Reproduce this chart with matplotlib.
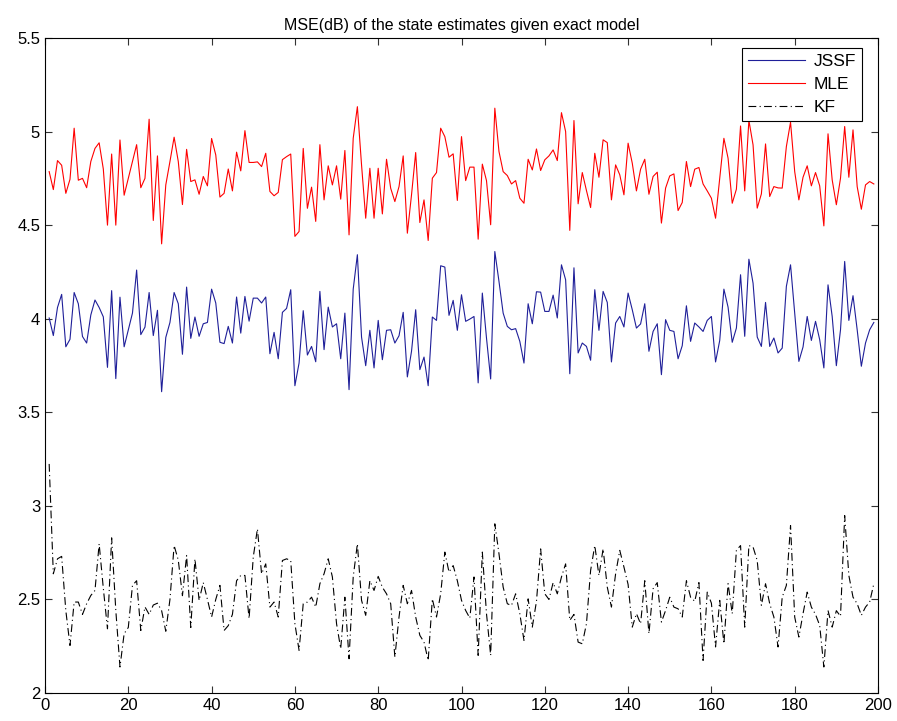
import numpy as np
import matplotlib
matplotlib.use("Agg")
import matplotlib.pyplot as plt
from matplotlib.ticker import FuncFormatter

# MSE (dB) per time step, one value per run index 1..199
mle = [4.786, 4.69, 4.845, 4.82, 4.67, 4.745, 5.018, 4.74, 4.75, 4.70,
       4.84, 4.91, 4.94, 4.80, 4.50, 4.88, 4.50, 4.955, 4.66, 4.75,
       4.84, 4.93, 4.70, 4.75, 5.066, 4.525, 4.87, 4.40, 4.715, 4.84,
       4.97, 4.84, 4.61, 4.905, 4.733, 4.742, 4.665, 4.76, 4.71, 4.963,
       4.875, 4.65, 4.67, 4.80, 4.683, 4.89, 4.79, 5.005, 4.835, 4.835,
       4.838, 4.813, 4.884, 4.68, 4.657, 4.675, 4.85, 4.866, 4.88, 4.44,
       4.466, 4.91, 4.59, 4.703, 4.52, 4.93, 4.635, 4.817, 4.715, 4.817,
       4.639, 4.899, 4.448, 4.964, 5.133, 4.822, 4.537, 4.804, 4.537, 4.804,
       4.56, 4.852, 4.697, 4.626, 4.706, 4.87, 4.457, 4.662, 4.888, 4.514,
       4.635, 4.418, 4.751, 4.781, 5.018, 4.973, 4.863, 4.881, 4.632, 4.973,
       4.738, 4.81, 4.81, 4.425, 4.826, 4.738, 4.502, 5.125, 4.893, 4.786,
       4.765, 4.72, 4.738, 4.644, 4.617, 4.852, 4.795, 4.907, 4.792, 4.849,
       4.87, 4.902, 4.845, 5.101, 5.0, 4.472, 5.059, 4.614, 4.781, 4.685,
       4.594, 4.884, 4.756, 4.956, 4.941, 4.635, 4.822, 4.769, 4.662, 4.938,
       4.831, 4.683, 4.799, 4.852, 4.665, 4.76, 4.783, 4.511, 4.698, 4.763,
       4.774, 4.578, 4.621, 4.84, 4.706, 4.799, 4.808, 4.72, 4.683, 4.644,
       4.537, 4.751, 4.964, 4.858, 4.617, 4.692, 5.03, 4.683, 5.06, 4.929,
       4.591, 4.667, 4.934, 4.653, 4.706, 4.699, 4.698, 4.92, 5.05, 4.786,
       4.635, 4.756, 4.817, 4.71, 4.781, 4.71, 4.496, 4.988, 4.742, 4.609,
       4.751, 5.027, 4.756, 5.009, 4.706, 4.585, 4.715, 4.733, 4.72]

jssf = [4.004, 3.91, 4.06, 4.13, 3.85, 3.89, 4.14, 4.08, 3.905, 3.87,
        4.02, 4.10, 4.06, 4.01, 3.74, 4.15, 3.68, 4.115, 3.85, 3.94,
        4.03, 4.26, 3.915, 3.955, 4.14, 3.91, 4.045, 3.61, 3.90, 3.98,
        4.14, 4.08, 3.81, 4.169, 3.895, 4.009, 3.906, 3.973, 3.98, 4.158,
        4.084, 3.874, 3.867, 3.959, 3.87, 4.116, 3.923, 4.119, 3.987, 4.11,
        4.11, 4.084, 4.116, 3.813, 3.927, 3.786, 4.034, 4.055, 4.155, 3.642,
        3.763, 4.043, 3.806, 3.852, 3.77, 4.146, 3.835, 4.062, 3.956, 3.973,
        3.786, 4.03, 3.621, 4.158, 4.342, 3.902, 3.749, 3.938, 3.737, 3.991,
        3.781, 3.938, 3.941, 3.87, 3.909, 4.034, 3.689, 3.826, 4.048, 3.728,
        3.795, 3.642, 4.009, 3.991, 4.283, 4.276, 4.018, 4.098, 3.938, 4.128,
        3.986, 3.998, 4.012, 3.657, 4.137, 3.897, 3.678, 4.359, 4.199, 4.03,
        3.959, 3.941, 3.947, 3.879, 3.763, 4.08, 3.973, 4.144, 4.142, 4.039,
        4.039, 4.126, 4.004, 4.288, 4.208, 3.706, 4.272, 3.817, 3.87, 3.852,
        3.778, 4.155, 3.938, 4.146, 4.087, 3.769, 3.977, 4.012, 3.956, 4.137,
        4.048, 3.95, 3.972, 4.08, 3.826, 3.932, 3.973, 3.701, 3.995, 3.938,
        3.932, 3.786, 3.856, 4.069, 3.879, 3.977, 3.956, 3.932, 3.991, 4.012,
        3.769, 3.884, 4.158, 4.062, 3.874, 3.95, 4.235, 3.906, 4.318, 4.19,
        3.902, 3.852, 4.087, 3.852, 3.897, 3.817, 3.843, 4.173, 4.288, 4.03,
        3.772, 3.849, 4.012, 3.884, 3.986, 3.888, 3.737, 4.181, 4.012, 3.749,
        3.941, 4.306, 3.991, 4.123, 3.941, 3.746, 3.87, 3.941, 3.98]

kf = [3.224, 2.637, 2.717, 2.73, 2.44, 2.254, 2.486, 2.486, 2.42, 2.477,
      2.521, 2.548, 2.797, 2.56, 2.343, 2.829, 2.441, 2.139, 2.317, 2.35,
      2.575, 2.60, 2.334, 2.46, 2.42, 2.47, 2.48, 2.44, 2.33, 2.50,
      2.788, 2.71, 2.52, 2.735, 2.35, 2.717, 2.495, 2.59, 2.50, 2.406,
      2.50, 2.575, 2.334, 2.36, 2.42, 2.60, 2.628, 2.628, 2.397, 2.726,
      2.877, 2.637, 2.69, 2.459, 2.486, 2.406, 2.708, 2.717, 2.708, 2.37,
      2.228, 2.477, 2.486, 2.512, 2.459, 2.584, 2.637, 2.717, 2.62, 2.37,
      2.237, 2.512, 2.183, 2.62, 2.797, 2.495, 2.415, 2.60, 2.548, 2.623,
      2.565, 2.53, 2.477, 2.192, 2.406, 2.575, 2.477, 2.548, 2.406, 2.308,
      2.272, 2.174, 2.503, 2.406, 2.53, 2.753, 2.646, 2.681, 2.60, 2.495,
      2.441, 2.40, 2.62, 2.201, 2.753, 2.424, 2.201, 2.904, 2.744, 2.566,
      2.477, 2.468, 2.53, 2.424, 2.281, 2.503, 2.352, 2.49, 2.77, 2.53,
      2.50, 2.59, 2.53, 2.62, 2.69, 2.388, 2.42, 2.272, 2.263, 2.37,
      2.655, 2.788, 2.628, 2.77, 2.566, 2.459, 2.637, 2.762, 2.673, 2.58,
      2.352, 2.424, 2.37, 2.60, 2.317, 2.557, 2.59, 2.379, 2.441, 2.512,
      2.459, 2.45, 2.406, 2.60, 2.512, 2.49, 2.59, 2.174, 2.539, 2.48,
      2.246, 2.495, 2.263, 2.584, 2.424, 2.762, 2.788, 2.352, 2.788, 2.78,
      2.708, 2.468, 2.584, 2.477, 2.406, 2.246, 2.512, 2.575, 2.895, 2.406,
      2.299, 2.424, 2.539, 2.459, 2.42, 2.361, 2.139, 2.441, 2.352, 2.44,
      2.41, 2.948, 2.628, 2.512, 2.477, 2.415, 2.459, 2.486, 2.584]

series_labels = ["JSSF", "MLE", "KF"]
x_ticks = [0, 20, 40, 60, 80, 100, 120, 140, 160, 180, 200]
y_ticks = [2, 2.5, 3, 3.5, 4, 4.5, 5, 5.5]

plt.rcParams['font.family'] = ['Liberation Sans', 'DejaVu Sans']

n = np.arange(1, len(mle) + 1)

fig = plt.figure(figsize=(8.97, 7.21), dpi=100)
ax = fig.add_axes([45 / 897, 1 - 693 / 721, 833 / 897, 655 / 721])

ax.plot(n, jssf, color='#1f1f99', linewidth=0.8, label=series_labels[0])
ax.plot(n, mle, color='#ff0000', linewidth=0.8, label=series_labels[1])
ax.plot(n, kf, color='black', linewidth=0.8, linestyle=(0, (7, 3, 1, 3)),
        label=series_labels[2])

ax.set_xlim(0, 200)
ax.set_ylim(2, 5.5)
ax.set_xticks(x_ticks)
ax.set_yticks(y_ticks)
ax.yaxis.set_major_formatter(FuncFormatter(lambda v, p: "%g" % v))
ax.tick_params(direction='in', top=True, right=True, length=5,
               width=0.8, labelsize=12, color='#333333')
for s in ax.spines.values():
    s.set_linewidth(0.8)

ax.set_title("MSE(dB) of the state estimates given exact model", fontsize=11.5, pad=6)

# legend box sits just under the top-right corner
leg = ax.legend(loc='upper right', bbox_to_anchor=(0.981, 0.985), borderaxespad=0,
                fontsize=12.5, fancybox=False, framealpha=1, edgecolor='black',
                handlelength=3.3, handletextpad=0.5, borderpad=0.35,
                labelspacing=0.45)
leg.get_frame().set_linewidth(0.8)

fig.savefig("out.png", dpi=100)
